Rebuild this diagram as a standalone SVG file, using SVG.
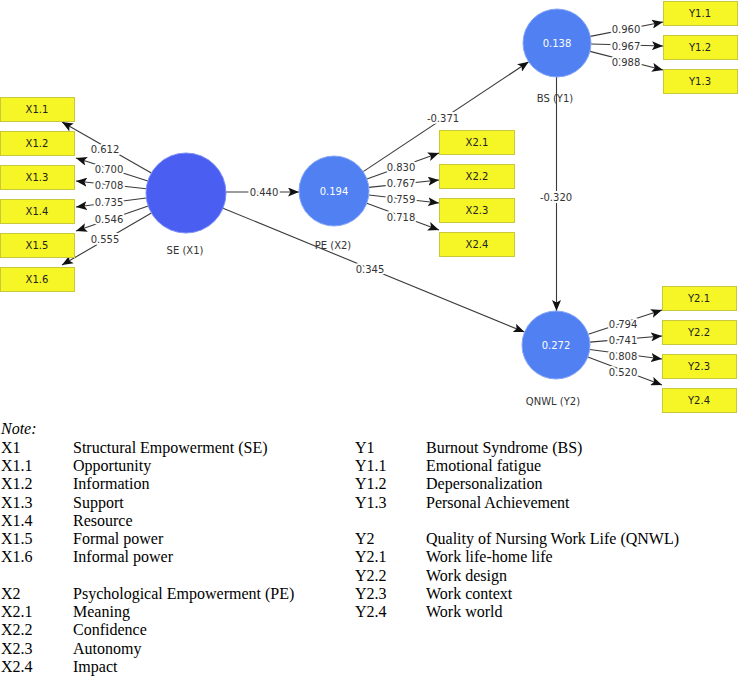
<svg xmlns="http://www.w3.org/2000/svg" width="738" height="676" viewBox="0 0 738 676">
<style>
.box{fill:#f6f626;stroke:#c8c83c;stroke-width:1}
.bt{font-family:"DejaVu Sans","Liberation Sans",sans-serif;font-size:10px;fill:#222;text-anchor:middle;dominant-baseline:central}
.ln{stroke:#3a3a3a;stroke-width:1.1;fill:none;marker-end:url(#ah)}
.lb{font-family:"DejaVu Sans","Liberation Sans",sans-serif;font-size:10px;fill:#333;text-anchor:middle;dominant-baseline:central;stroke:#fff;stroke-width:4;paint-order:stroke;stroke-linejoin:round}
.lv1{fill:#4a5ef2;stroke:#7d8ff5;stroke-width:1}
.lv2{fill:#5080f2;stroke:#86a6f6;stroke-width:1}
.val{font-family:"DejaVu Sans","Liberation Sans",sans-serif;font-size:10px;fill:#fff;text-anchor:middle;dominant-baseline:central}
.nm{font-family:"DejaVu Sans","Liberation Sans",sans-serif;font-size:10px;fill:#333;text-anchor:middle;dominant-baseline:central}
.lg{font-family:"Liberation Serif","Times New Roman",serif;font-size:16px;fill:#000}
</style>
<defs>
<marker id="ah" markerUnits="userSpaceOnUse" markerWidth="11" markerHeight="9" refX="11" refY="4.5" orient="auto">
<path d="M0,0 L11,4.5 L0,9 L2.5,4.5 z" fill="#111"/>
</marker>
</defs>
<g id="connectors">
<line class="ln" x1="151.3" y1="173.1" x2="62" y2="122"/>
<line class="ln" x1="147.9" y1="180.9" x2="76" y2="158"/>
<line class="ln" x1="146.2" y1="188.7" x2="76" y2="181"/>
<line class="ln" x1="146.3" y1="198" x2="76" y2="207"/>
<line class="ln" x1="148.2" y1="206.1" x2="76" y2="231"/>
<line class="ln" x1="151.4" y1="213.1" x2="62" y2="265"/>
<line class="ln" x1="226" y1="192" x2="299" y2="192"/>
<line class="ln" x1="223" y1="208.2" x2="524.5" y2="332.1"/>
<line class="ln" x1="363.2" y1="171.6" x2="528.7" y2="61.8"/>
<line class="ln" x1="366.9" y1="179.1" x2="439" y2="153"/>
<line class="ln" x1="368.8" y1="187.4" x2="439" y2="180"/>
<line class="ln" x1="368.8" y1="195" x2="439" y2="203"/>
<line class="ln" x1="366.8" y1="203.2" x2="439" y2="230"/>
<line class="ln" x1="590.4" y1="36.4" x2="663" y2="22"/>
<line class="ln" x1="591" y1="44" x2="663" y2="46"/>
<line class="ln" x1="590" y1="51.4" x2="663" y2="70"/>
<line class="ln" x1="556.5" y1="77" x2="556.5" y2="311"/>
<line class="ln" x1="588.3" y1="334.3" x2="662" y2="310"/>
<line class="ln" x1="589.9" y1="342.1" x2="662" y2="336"/>
<line class="ln" x1="589.7" y1="349.5" x2="662" y2="359"/>
<line class="ln" x1="587.8" y1="357" x2="662" y2="385"/>
<text class="lb" x="105" y="149">0.612</text>
<text class="lb" x="109" y="169">0.700</text>
<text class="lb" x="109" y="185">0.708</text>
<text class="lb" x="109" y="202">0.735</text>
<text class="lb" x="109" y="219">0.546</text>
<text class="lb" x="105" y="239">0.555</text>
<text class="lb" x="264" y="192">0.440</text>
<text class="lb" x="370" y="269">0.345</text>
<text class="lb" x="443" y="118">-0.371</text>
<text class="lb" x="401" y="167">0.830</text>
<text class="lb" x="401" y="183">0.767</text>
<text class="lb" x="401" y="199">0.759</text>
<text class="lb" x="401" y="217">0.718</text>
<text class="lb" x="626" y="29">0.960</text>
<text class="lb" x="626" y="46">0.967</text>
<text class="lb" x="626" y="62">0.988</text>
<text class="lb" x="556" y="197">-0.320</text>
<text class="lb" x="623" y="324">0.794</text>
<text class="lb" x="623" y="340">0.741</text>
<text class="lb" x="623" y="356">0.808</text>
<text class="lb" x="623" y="372">0.520</text>
</g>
<g id="SE"><circle class="lv1" cx="186" cy="193" r="40"/><text class="nm" x="185" y="250">SE (X1)</text></g>
<g id="PE"><circle class="lv2" cx="334" cy="191" r="35"/><text class="val" x="334" y="191">0.194</text><text class="nm" x="333" y="245">PE (X2)</text></g>
<g id="BS"><circle class="lv2" cx="557" cy="43" r="34"/><text class="val" x="557" y="43">0.138</text><text class="nm" x="555" y="98">BS (Y1)</text></g>
<g id="QNWL"><circle class="lv2" cx="556" cy="345" r="34"/><text class="val" x="556" y="345">0.272</text><text class="nm" x="553" y="401">QNWL (Y2)</text></g>
<g id="X1.1"><rect class="box" x="0.5" y="97.5" width="74" height="24"/><text class="bt" x="37" y="109.5">X1.1</text></g>
<g id="X1.2"><rect class="box" x="0.5" y="131.5" width="74" height="24"/><text class="bt" x="37" y="143.5">X1.2</text></g>
<g id="X1.3"><rect class="box" x="0.5" y="165.5" width="74" height="24"/><text class="bt" x="37" y="177.5">X1.3</text></g>
<g id="X1.4"><rect class="box" x="0.5" y="199.5" width="74" height="24"/><text class="bt" x="37" y="211.5">X1.4</text></g>
<g id="X1.5"><rect class="box" x="0.5" y="233.5" width="74" height="24"/><text class="bt" x="37" y="245.5">X1.5</text></g>
<g id="X1.6"><rect class="box" x="0.5" y="267.5" width="74" height="24"/><text class="bt" x="37" y="279.5">X1.6</text></g>
<g id="X2.1"><rect class="box" x="439.5" y="130.5" width="75" height="24"/><text class="bt" x="477" y="142.5">X2.1</text></g>
<g id="X2.2"><rect class="box" x="439.5" y="164.5" width="75" height="24"/><text class="bt" x="477" y="176.5">X2.2</text></g>
<g id="X2.3"><rect class="box" x="439.5" y="198.5" width="75" height="24"/><text class="bt" x="477" y="210.5">X2.3</text></g>
<g id="X2.4"><rect class="box" x="439.5" y="232.5" width="75" height="24"/><text class="bt" x="477" y="244.5">X2.4</text></g>
<g id="Y1.1"><rect class="box" x="663.5" y="1.5" width="74" height="24"/><text class="bt" x="700" y="13.5">Y1.1</text></g>
<g id="Y1.2"><rect class="box" x="663.5" y="35.5" width="74" height="24"/><text class="bt" x="700" y="47.5">Y1.2</text></g>
<g id="Y1.3"><rect class="box" x="663.5" y="69.5" width="74" height="24"/><text class="bt" x="700" y="81.5">Y1.3</text></g>
<g id="Y2.1"><rect class="box" x="662.5" y="286.5" width="74" height="24"/><text class="bt" x="699" y="298.5">Y2.1</text></g>
<g id="Y2.2"><rect class="box" x="662.5" y="320.5" width="74" height="24"/><text class="bt" x="699" y="332.5">Y2.2</text></g>
<g id="Y2.3"><rect class="box" x="662.5" y="354.5" width="74" height="24"/><text class="bt" x="699" y="366.5">Y2.3</text></g>
<g id="Y2.4"><rect class="box" x="662.5" y="388.5" width="74" height="24"/><text class="bt" x="699" y="400.5">Y2.4</text></g>
<g id="legend" class="lg">
<text x="1" y="434.4" font-style="italic">Note:</text>
<text x="1" y="452.7">X1</text><text x="73" y="452.7">Structural Empowerment (SE)</text>
<text x="1" y="471">X1.1</text><text x="73" y="471">Opportunity</text>
<text x="1" y="489.2">X1.2</text><text x="73" y="489.2">Information</text>
<text x="1" y="507.5">X1.3</text><text x="73" y="507.5">Support</text>
<text x="1" y="525.7">X1.4</text><text x="73" y="525.7">Resource</text>
<text x="1" y="544">X1.5</text><text x="73" y="544">Formal power</text>
<text x="1" y="562.2">X1.6</text><text x="73" y="562.2">Informal power</text>
<text x="1" y="598.7">X2</text><text x="73" y="598.7">Psychological Empowerment (PE)</text>
<text x="1" y="617">X2.1</text><text x="73" y="617">Meaning</text>
<text x="1" y="635.2">X2.2</text><text x="73" y="635.2">Confidence</text>
<text x="1" y="653.5">X2.3</text><text x="73" y="653.5">Autonomy</text>
<text x="1" y="671.7">X2.4</text><text x="73" y="671.7">Impact</text>
<text x="355" y="452.7">Y1</text><text x="426" y="452.7">Burnout Syndrome (BS)</text>
<text x="355" y="471">Y1.1</text><text x="426" y="471">Emotional fatigue</text>
<text x="355" y="489.2">Y1.2</text><text x="426" y="489.2">Depersonalization</text>
<text x="355" y="507.5">Y1.3</text><text x="426" y="507.5">Personal Achievement</text>
<text x="355" y="544">Y2</text><text x="426" y="544">Quality of Nursing Work Life (QNWL)</text>
<text x="355" y="562.2">Y2.1</text><text x="426" y="562.2">Work life-home life</text>
<text x="355" y="580.5">Y2.2</text><text x="426" y="580.5">Work design</text>
<text x="355" y="598.7">Y2.3</text><text x="426" y="598.7">Work context</text>
<text x="355" y="617">Y2.4</text><text x="426" y="617">Work world</text>
</g>
</svg>
